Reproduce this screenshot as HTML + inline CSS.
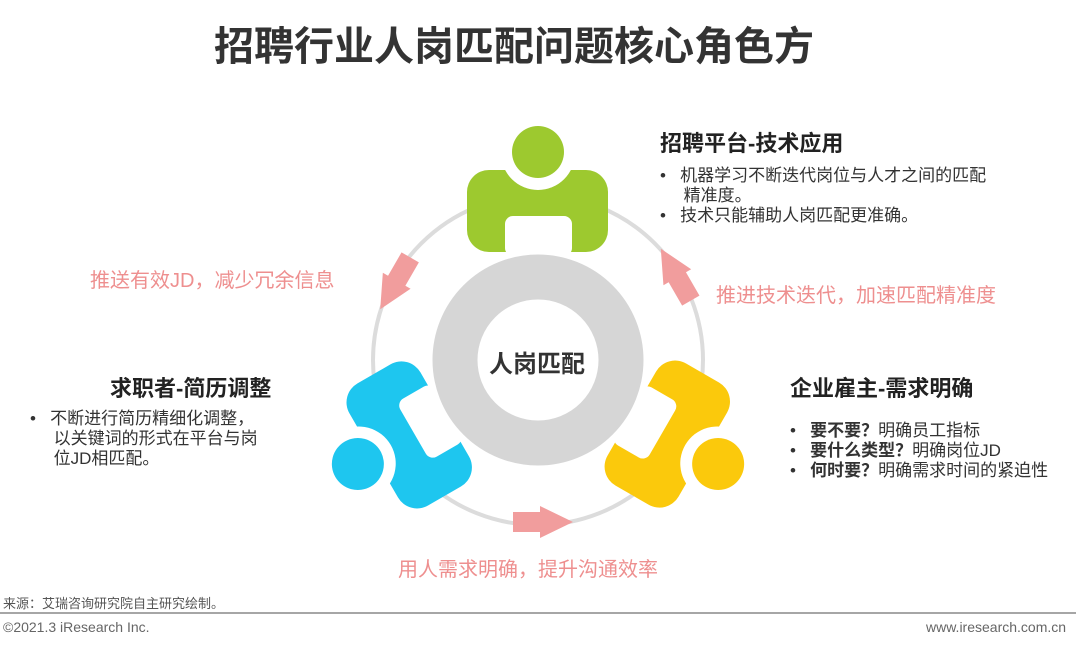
<!DOCTYPE html>
<html><head><meta charset="utf-8"><style>
body{margin:0;width:1080px;height:649px;background:#fff;overflow:hidden;position:relative;font-family:"Liberation Sans","Noto Sans CJK SC",sans-serif;color:#333}
.a{position:absolute;white-space:nowrap}
.h{font-weight:bold;font-size:22px;color:#222}
.b{font-size:17px;line-height:20px;color:#333}
.p{font-size:20px;color:#ee8f8f}
</style></head><body>
<div class="a" style="left:214px;top:14px;font-size:40px;font-weight:bold;color:#333;letter-spacing:0px">招聘行业人岗匹配问题核心角色方</div>
<svg class="a" style="left:0;top:0" width="1080" height="649">
<circle cx="538" cy="360" r="165" fill="none" stroke="#dcdcdc" stroke-width="4"/>
<defs>
<g id="person">
<rect x="467" y="170" width="141" height="82" rx="22" fill="currentColor"/>
<rect x="505" y="216" width="67" height="40" rx="8" fill="#fff"/>
<circle cx="538" cy="153" r="37" fill="#fff"/>
<circle cx="538" cy="152" r="26" fill="currentColor"/>
</g>
<g id="arr"><polygon points="513,512 540,512 540,506 573,522 540,538 540,532 513,532" fill="#f19d9d"/></g>
</defs>
<use href="#person" style="color:#9dc92f"/>
<use href="#person" style="color:#1ec6ef" transform="rotate(-120 538 360)"/>
<use href="#person" style="color:#fbc90c" transform="rotate(120 538 360)"/>
<circle cx="538" cy="360" r="83" fill="none" stroke="#d6d6d6" stroke-width="45"/>
<use href="#arr"/>
<use href="#arr" transform="rotate(120 538 360)"/>
<use href="#arr" transform="rotate(-120 538 360)"/>
<line x1="0" y1="613" x2="1076" y2="613" stroke="#888" stroke-width="1.5"/>
</svg>
<div class="a" style="left:489px;top:344px;font-size:24px;font-weight:bold;color:#333">人岗匹配</div>
<div class="a h" style="left:660px;top:126px">招聘平台-技术应用</div>
<div class="a b" style="left:660px;top:166px">•&nbsp;&nbsp;&nbsp;机器学习不断迭代岗位与人才之间的匹配<br>&nbsp;&nbsp;&nbsp;&nbsp;&nbsp;精准度。<br>•&nbsp;&nbsp;&nbsp;技术只能辅助人岗匹配更准确。</div>
<div class="a p" style="left:90px;top:264px">推送有效JD，减少冗余信息</div>
<div class="a p" style="left:716px;top:279px">推进技术迭代，加速匹配精准度</div>
<div class="a h" style="left:110px;top:371px">求职者-简历调整</div>
<div class="a b" style="left:30px;top:409px">•&nbsp;&nbsp;&nbsp;不断进行简历精细化调整，<br>&nbsp;&nbsp;&nbsp;&nbsp;&nbsp;以关键词的形式在平台与岗<br>&nbsp;&nbsp;&nbsp;&nbsp;&nbsp;位JD相匹配。</div>
<div class="a h" style="left:790px;top:371px">企业雇主-需求明确</div>
<div class="a b" style="left:790px;top:421px">•&nbsp;&nbsp;&nbsp;<b>要不要？</b>明确员工指标<br>•&nbsp;&nbsp;&nbsp;<b>要什么类型？</b>明确岗位JD<br>•&nbsp;&nbsp;&nbsp;<b>何时要？</b>明确需求时间的紧迫性</div>
<div class="a p" style="left:398px;top:553px">用人需求明确，提升沟通效率</div>
<div class="a" style="left:3px;top:593px;font-size:13px;color:#555">来源：艾瑞咨询研究院自主研究绘制。</div>
<div class="a" style="left:3px;top:619px;font-size:14px;color:#666">©2021.3 iResearch Inc.</div>
<div class="a" style="left:926px;top:619px;font-size:14px;color:#666">www.iresearch.com.cn</div>
</body></html>
